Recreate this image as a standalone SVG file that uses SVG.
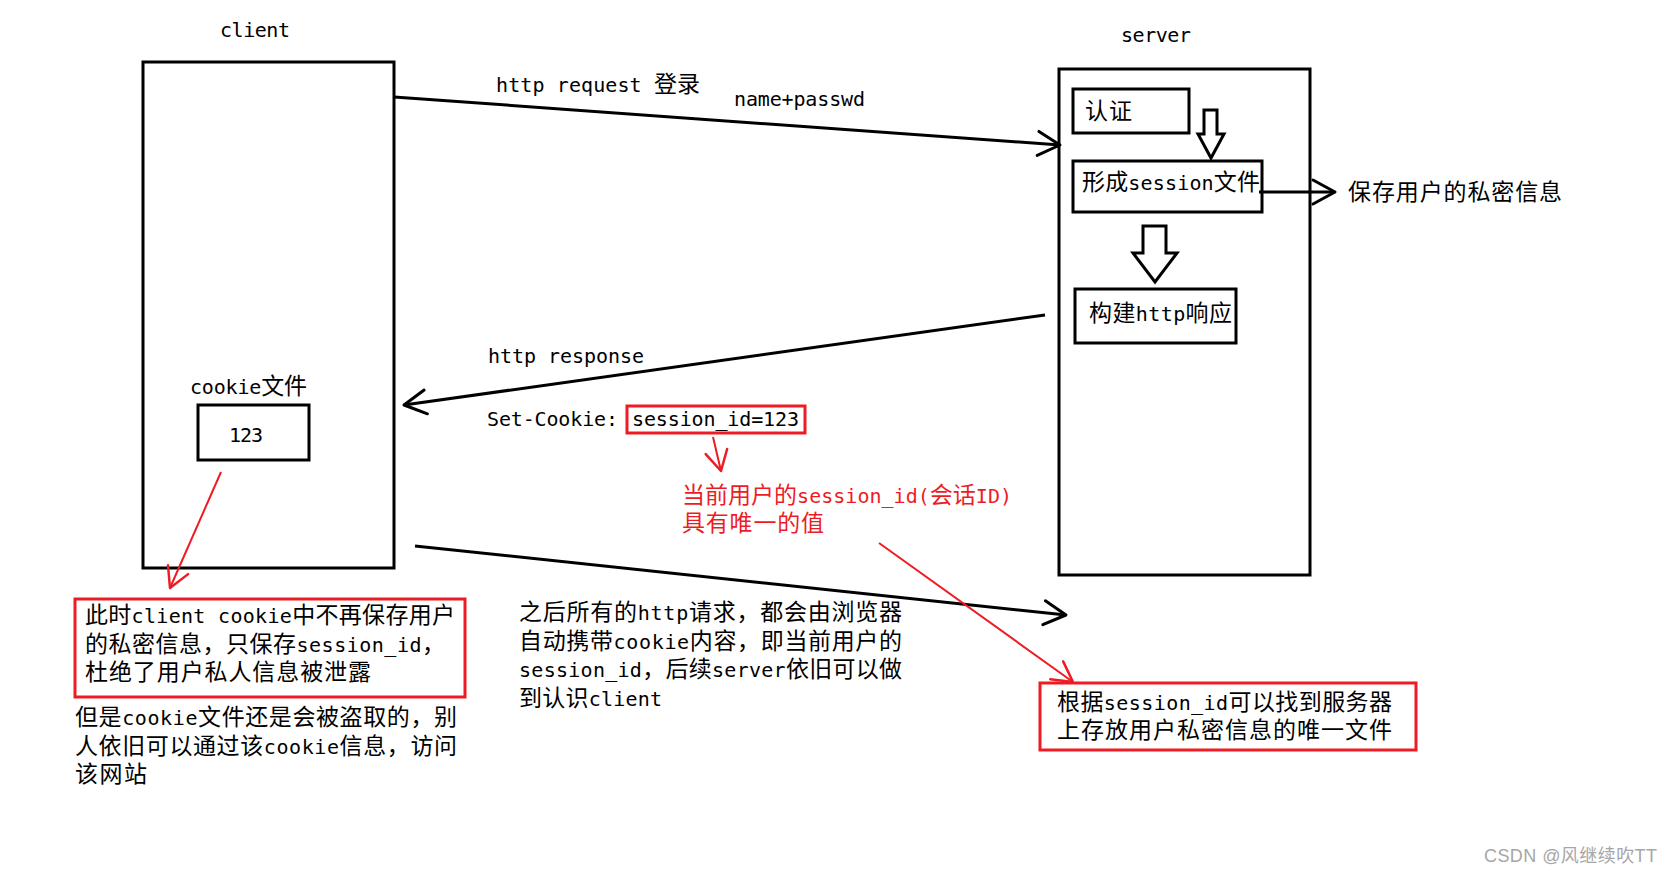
<svg xmlns="http://www.w3.org/2000/svg" width="1671" height="875" viewBox="0 0 1671 875">
<style>
 .t{font-family:"DejaVu Sans Mono","Noto Sans CJK SC",monospace;font-size:23px;fill:#000}
 .l{font-size:20px}
 .r{fill:#ed1c24}
 .box{fill:none;stroke:#000;stroke-width:3}
 .rbox{fill:none;stroke:#ed1c24;stroke-width:3}
 .ln{fill:none;stroke:#000;stroke-width:3}
 .rln{fill:none;stroke:#ed1c24;stroke-width:2}
 .blk{fill:#fff;stroke:#000;stroke-width:3;stroke-linejoin:miter}
 .wm{font-family:"Liberation Sans","Noto Sans CJK SC",sans-serif;font-size:18px;fill:#a6a6a6}
</style>
<defs>
 <marker id="ab" markerUnits="userSpaceOnUse" markerWidth="50" markerHeight="50" viewBox="-30 -25 50 50" refX="0" refY="0" orient="auto" overflow="visible">
  <path d="M-22,-12 L0,0 L-22,12" fill="none" stroke="#000" stroke-width="3" stroke-linejoin="round" stroke-linecap="round"/>
 </marker>
 <marker id="ar" markerUnits="userSpaceOnUse" markerWidth="50" markerHeight="50" viewBox="-30 -25 50 50" refX="0" refY="0" orient="auto" overflow="visible">
  <path d="M-20,-11 L0,0 L-20,11" fill="none" stroke="#ed1c24" stroke-width="2.5" stroke-linejoin="round" stroke-linecap="round"/>
 </marker>
</defs>
<rect width="1671" height="875" fill="#fff"/>

<g id="client">
 <text class="t l" x="220" y="37" textLength="70" lengthAdjust="spacing">client</text>
 <rect class="box" x="143" y="62" width="251" height="506"/>
</g>
<g id="cookie-file">
 <text class="t" x="190" y="394" textLength="117" lengthAdjust="spacing"><tspan class="l">cookie</tspan>文件</text>
 <rect class="box" x="198" y="405" width="111" height="55"/>
 <text class="t l" x="246" y="442" text-anchor="middle" textLength="34" lengthAdjust="spacing">123</text>
</g>

<g id="server">
 <text class="t l" x="1121" y="42" textLength="70" lengthAdjust="spacing">server</text>
 <rect class="box" x="1059" y="69" width="251" height="506"/>
</g>
<g id="auth">
 <rect class="box" x="1073" y="89" width="116" height="44"/>
 <text class="t" x="1085" y="119" textLength="47" lengthAdjust="spacing">认证</text>
</g>
<g id="session-file">
 <rect class="box" x="1073" y="161" width="189" height="51"/>
 <text class="t" x="1082" y="190" textLength="178" lengthAdjust="spacing">形成<tspan class="l">session</tspan>文件</text>
</g>
<g id="build-response">
 <rect class="box" x="1075" y="289" width="161" height="54"/>
 <text class="t" x="1089" y="321" textLength="143" lengthAdjust="spacing">构建<tspan class="l">http</tspan>响应</text>
</g>
<g id="save-private">
 <text class="t" x="1348" y="200" textLength="214" lengthAdjust="spacing">保存用户的私密信息</text>
</g>

<g id="request-label">
 <text class="t" x="496" y="92" textLength="204" lengthAdjust="spacing"><tspan class="l">http request </tspan>登录</text>
 <text class="t l" x="734" y="106" textLength="131" lengthAdjust="spacing">name+passwd</text>
</g>
<g id="response-label">
 <text class="t l" x="488" y="363" textLength="156" lengthAdjust="spacing">http response</text>
 <text class="t l" x="487" y="426" textLength="131" lengthAdjust="spacing">Set-Cookie:</text>
</g>
<g id="session-id">
 <rect class="rbox" x="627" y="406" width="178" height="27"/>
 <text class="t l" x="632" y="426" textLength="167" lengthAdjust="spacing">session_id=123</text>
</g>
<g id="session-id-note">
 <text class="t r" x="682" y="503" textLength="330" lengthAdjust="spacing">当前用户的<tspan class="l">session_id(</tspan>会话<tspan class="l">ID)</tspan></text>
 <text class="t r" x="682" y="531" textLength="142" lengthAdjust="spacing">具有唯一的值</text>
</g>

<g id="client-note">
 <rect class="rbox" x="75" y="599" width="390" height="98"/>
 <text class="t" x="85" y="623" textLength="370" lengthAdjust="spacing">此时<tspan class="l">client cookie</tspan>中不再保存用户</text>
 <text class="t" x="85" y="652" textLength="360" lengthAdjust="spacing">的私密信息，只保存<tspan class="l">session_id</tspan>，</text>
 <text class="t" x="85" y="680" textLength="286" lengthAdjust="spacing">杜绝了用户私人信息被泄露</text>
</g>
<g id="cookie-risk">
 <text class="t" x="75" y="725" textLength="382" lengthAdjust="spacing">但是<tspan class="l">cookie</tspan>文件还是会被盗取的，别</text>
 <text class="t" x="75" y="754" textLength="382" lengthAdjust="spacing">人依旧可以通过该<tspan class="l">cookie</tspan>信息，访问</text>
 <text class="t" x="75" y="782" textLength="72" lengthAdjust="spacing">该网站</text>
</g>
<g id="later-requests">
 <text class="t" x="519" y="620" textLength="383" lengthAdjust="spacing">之后所有的<tspan class="l">http</tspan>请求，都会由浏览器</text>
 <text class="t" x="519" y="649" textLength="383" lengthAdjust="spacing">自动携带<tspan class="l">cookie</tspan>内容，即当前用户的</text>
 <text class="t" x="519" y="677" textLength="383" lengthAdjust="spacing"><tspan class="l">session_id</tspan>，后续<tspan class="l">server</tspan>依旧可以做</text>
 <text class="t" x="519" y="706" textLength="143" lengthAdjust="spacing">到认识<tspan class="l">client</tspan></text>
</g>
<g id="server-note">
 <rect class="rbox" x="1040" y="683" width="376" height="67"/>
 <text class="t" x="1057" y="710" textLength="335" lengthAdjust="spacing">根据<tspan class="l">session_id</tspan>可以找到服务器</text>
 <text class="t" x="1057" y="738" textLength="335" lengthAdjust="spacing">上存放用户私密信息的唯一文件</text>
</g>

<g id="connectors">
 <line class="ln" x1="394" y1="97" x2="1060" y2="145" marker-end="url(#ab)"/>
 <line class="ln" x1="1045" y1="315" x2="404" y2="405" marker-end="url(#ab)"/>
 <line class="ln" x1="415" y1="546" x2="1066" y2="615" marker-end="url(#ab)"/>
 <line class="ln" x1="1259" y1="192" x2="1335" y2="192" marker-end="url(#ab)"/>
 <polygon class="blk" points="1204,110 1217,110 1217,134 1224,134 1211,158 1198,134 1204,134"/>
 <polygon class="blk" points="1143,226 1166,226 1166,253 1177,253 1155,282 1133,253 1143,253"/>
 <line class="rln" x1="221" y1="472" x2="170" y2="588" marker-end="url(#ar)"/>
 <line class="rln" x1="713" y1="437" x2="721" y2="471" marker-end="url(#ar)"/>
 <line class="rln" x1="879" y1="543" x2="1073" y2="682" marker-end="url(#ar)"/>
</g>

<text class="wm" x="1484" y="862" textLength="173" lengthAdjust="spacing">CSDN @风继续吹TT</text>
</svg>
